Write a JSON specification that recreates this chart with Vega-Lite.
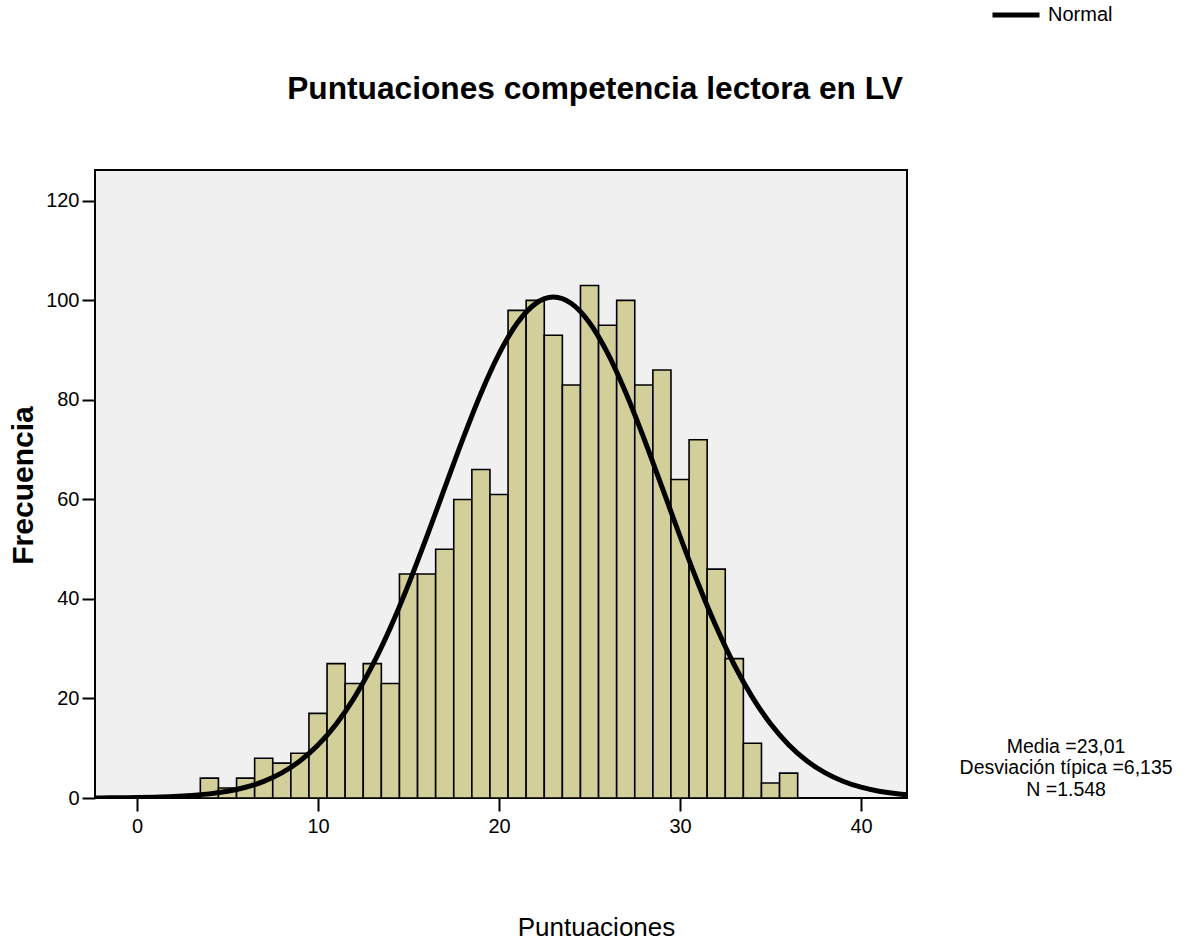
{
  "$schema": "https://vega.github.io/schema/vega-lite/v6.json",
  "width": 812,
  "height": 628,
  "autosize": {"type": "none"},
  "padding": {"left": 95, "top": 170, "right": 284, "bottom": 143},
  "background": "white",
  "config": {
    "font": "Liberation Sans",
    "view": {"fill": "#f0f0f0", "stroke": "black", "strokeWidth": 2}
  },
  "title": {
    "text": "Puntuaciones competencia lectora en LV",
    "fontSize": 31.7,
    "fontWeight": "bold",
    "font": "Liberation Sans",
    "color": "black",
    "anchor": "middle",
    "frame": "group",
    "dx": 94,
    "baseline": "alphabetic",
    "offset": -142
  },
  "datasets": {
    "hist": [
      {"x": 3.5, "x2": 4.5, "y": 4},
      {"x": 4.5, "x2": 5.5, "y": 2},
      {"x": 5.5, "x2": 6.5, "y": 4},
      {"x": 6.5, "x2": 7.5, "y": 8},
      {"x": 7.5, "x2": 8.5, "y": 7},
      {"x": 8.5, "x2": 9.5, "y": 9},
      {"x": 9.5, "x2": 10.5, "y": 17},
      {"x": 10.5, "x2": 11.5, "y": 27},
      {"x": 11.5, "x2": 12.5, "y": 23},
      {"x": 12.5, "x2": 13.5, "y": 27},
      {"x": 13.5, "x2": 14.5, "y": 23},
      {"x": 14.5, "x2": 15.5, "y": 45},
      {"x": 15.5, "x2": 16.5, "y": 45},
      {"x": 16.5, "x2": 17.5, "y": 50},
      {"x": 17.5, "x2": 18.5, "y": 60},
      {"x": 18.5, "x2": 19.5, "y": 66},
      {"x": 19.5, "x2": 20.5, "y": 61},
      {"x": 20.5, "x2": 21.5, "y": 98},
      {"x": 21.5, "x2": 22.5, "y": 100},
      {"x": 22.5, "x2": 23.5, "y": 93},
      {"x": 23.5, "x2": 24.5, "y": 83},
      {"x": 24.5, "x2": 25.5, "y": 103},
      {"x": 25.5, "x2": 26.5, "y": 95},
      {"x": 26.5, "x2": 27.5, "y": 100},
      {"x": 27.5, "x2": 28.5, "y": 83},
      {"x": 28.5, "x2": 29.5, "y": 86},
      {"x": 29.5, "x2": 30.5, "y": 64},
      {"x": 30.5, "x2": 31.5, "y": 72},
      {"x": 31.5, "x2": 32.5, "y": 46},
      {"x": 32.5, "x2": 33.5, "y": 28},
      {"x": 33.5, "x2": 34.5, "y": 11},
      {"x": 34.5, "x2": 35.5, "y": 3},
      {"x": 35.5, "x2": 36.5, "y": 5}
    ],
    "curve": [
      {"x": -2.32, "y": 0.02},
      {"x": -2, "y": 0.025},
      {"x": -1, "y": 0.048},
      {"x": 0, "y": 0.089},
      {"x": 1, "y": 0.162},
      {"x": 2, "y": 0.286},
      {"x": 3, "y": 0.49},
      {"x": 4, "y": 0.828},
      {"x": 5, "y": 1.354},
      {"x": 6, "y": 2.156},
      {"x": 7, "y": 3.343},
      {"x": 8, "y": 5.048},
      {"x": 9, "y": 7.423},
      {"x": 10, "y": 10.63},
      {"x": 11, "y": 14.81},
      {"x": 12, "y": 20.11},
      {"x": 13, "y": 26.6},
      {"x": 14, "y": 34.24},
      {"x": 15, "y": 42.92},
      {"x": 16, "y": 52.4},
      {"x": 17, "y": 62.3},
      {"x": 18, "y": 72.12},
      {"x": 19, "y": 81.3},
      {"x": 20, "y": 89.24},
      {"x": 21, "y": 95.4},
      {"x": 22, "y": 99.3},
      {"x": 23, "y": 100.66},
      {"x": 24, "y": 99.36},
      {"x": 25, "y": 95.5},
      {"x": 26, "y": 89.39},
      {"x": 27, "y": 81.47},
      {"x": 28, "y": 72.31},
      {"x": 29, "y": 62.5},
      {"x": 30, "y": 52.6},
      {"x": 31, "y": 43.1},
      {"x": 32, "y": 34.4},
      {"x": 33, "y": 26.73},
      {"x": 34, "y": 20.23},
      {"x": 35, "y": 14.91},
      {"x": 36, "y": 10.7},
      {"x": 37, "y": 7.477},
      {"x": 38, "y": 5.088},
      {"x": 39, "y": 3.371},
      {"x": 40, "y": 2.175},
      {"x": 41, "y": 1.367},
      {"x": 42, "y": 0.836},
      {"x": 42.54, "y": 0.63}
    ],
    "stats": [
      {"label": ["Media =23,01", "Desviación típica =6,135", "N =1.548"], "px": 51.33, "py": 10.25}
    ]
  },
  "encoding": {
    "x": {
      "field": "x",
      "type": "quantitative",
      "scale": {"domain": [-2.32, 42.54], "nice": false, "zero": false},
      "axis": {
        "values": [0, 10, 20, 30, 40],
        "grid": false,
        "domain": false,
        "tickSize": 13,
        "tickWidth": 2,
        "tickColor": "black",
        "labelFontSize": 20,
        "labelColor": "black",
        "labelPadding": 5,
        "title": "Puntuaciones",
        "titleFontSize": 26,
        "titleFontWeight": "normal",
        "titleColor": "black",
        "titleX": 501,
        "titleY": 137,
        "titleAlign": "center",
        "titleBaseline": "alphabetic"
      }
    },
    "y": {
      "field": "y",
      "type": "quantitative",
      "scale": {"domain": [0, 126.2], "nice": false},
      "axis": {
        "values": [0, 20, 40, 60, 80, 100, 120],
        "grid": false,
        "domain": false,
        "tickSize": 13,
        "tickWidth": 2,
        "tickColor": "black",
        "labelFontSize": 20,
        "labelColor": "black",
        "labelPadding": 3,
        "title": "Frecuencia",
        "titleFontSize": 30,
        "titleFontWeight": "bold",
        "titleColor": "black",
        "titleAngle": 270,
        "titleX": -63,
        "titleY": 315,
        "titleAlign": "center",
        "titleBaseline": "alphabetic"
      }
    }
  },
  "layer": [
    {
      "data": {"name": "hist"},
      "mark": {"type": "rect", "fill": "#d3cf9a", "stroke": "black", "strokeWidth": 1.6},
      "encoding": {
        "x2": {"field": "x2"},
        "y2": {"datum": 0}
      }
    },
    {
      "data": {"name": "curve"},
      "mark": {"type": "line", "interpolate": "monotone", "strokeWidth": 5, "clip": true},
      "encoding": {
        "color": {
          "datum": "Normal",
          "type": "nominal",
          "scale": {"range": ["black"]},
          "legend": {
            "orient": "none",
            "legendX": 895,
            "legendY": -181,
            "title": null,
            "padding": 0,
            "symbolType": "stroke",
            "symbolSize": 2209,
            "symbolStrokeWidth": 5,
            "symbolStrokeColor": "black",
            "labelFontSize": 20,
            "labelColor": "black",
            "labelOffset": 6
          }
        }
      }
    },
    {
      "data": {"name": "stats"},
      "mark": {"type": "text", "fontSize": 19.5, "align": "center", "baseline": "middle", "lineHeight": 21.5, "color": "black"},
      "encoding": {
        "x": {"field": "px", "type": "quantitative"},
        "y": {"field": "py", "type": "quantitative"},
        "text": {"field": "label"}
      }
    }
  ]
}
